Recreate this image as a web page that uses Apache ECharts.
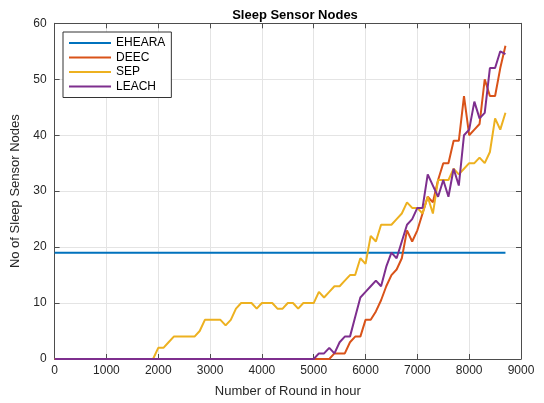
<!DOCTYPE html>
<html><head><meta charset="utf-8">
<script src="https://cdn.jsdelivr.net/npm/echarts@6/dist/echarts.min.js"></script>
<style>html,body{margin:0;padding:0;background:#fff}#c{width:544px;height:403px}</style>
</head><body><div id="c"></div>
<script>
const rounds = [];
for (let r = 0; r <= 8700; r += 100) rounds.push(r);
const xTicks = [0,1000,2000,3000,4000,5000,6000,7000,8000,9000];
const yTicks = [0,10,20,30,40,50,60];
const seriesNames = ['EHEARA','DEEC','SEP','LEACH'];
const eheara = new Array(88).fill(19);
const deec = new Array(54).fill(0).concat([
  1,1,1,3,4,4,
  7,7,8.5,10.5,13,15,16,18,23,21,
  23,26,29,28,32,35,35,39,39,47,
  40,41,42,50,47,47,52,56]);
const sep = new Array(20).fill(0).concat([
  2,2,3,4,4,4,4,4,5,7,
  7,7,7,6,7,9,10,10,10,9,
  10,10,10,9,9,10,10,9,10,10,
  10,12,11,12,13,13,14,15,15,18,
  17,22,21,24,24,24,25,26,28,27,
  27,26,29,26,32,32,32,34,33,34,
  35,35,36,35,37,43,41,44]);
const leach = new Array(51).fill(0).concat([
  1,1,2,1,3,4,4,7.5,11,
  12,13,14,13,16.5,19,18,21,24,25,
  27,27,33,31,29,32,29,34,31,40,
  41,46,43,44,52,52,55,54.5]);
const colors = ['#0072BD','#D95319','#EDB120','#7E2F8E'];
const values = [eheara, deec, sep, leach];

const chart = echarts.init(document.getElementById('c'), null, {renderer:'canvas'});
const font = 'Liberation Sans, Arial, sans-serif';
const axisCol = '#4d4d4d';
const grid = {left:54.6, right:23, top:23.3, bottom:43.7};
const baseX = {type:'value', min:0, max:9000, interval:1000};
const baseY = {type:'value', min:0, max:60, interval:10};
chart.setOption({
  animation:false,
  textStyle:{fontFamily:font},
  title:{text:'Sleep Sensor Nodes', left:290, textAlign:'center', top:4,
    textStyle:{fontSize:13, fontWeight:'bold', color:'#000', fontFamily:font}},
  grid:grid,
  legend:{data:seriesNames.map((n,i)=>({name:n, icon:'rect', itemStyle:{color:colors[i]}})),
    orient:'vertical', left:63, top:32,
    backgroundColor:'#fff', borderColor:'#333', borderWidth:1, borderRadius:0,
    padding:[4,6,4,6], itemWidth:42, itemHeight:2, itemGap:0.5,
    textStyle:{fontSize:12, color:'#000', fontFamily:font, lineHeight:14}},
  xAxis:[
    Object.assign({}, baseX, {position:'bottom',
      name:'Number of Round in hour', nameLocation:'middle', nameGap:26,
      nameTextStyle:{fontSize:13, color:'#262626', fontFamily:font},
      axisLine:{show:true, onZero:false, lineStyle:{color:axisCol, width:1}},
      axisTick:{show:true, inside:true, length:5, lineStyle:{color:axisCol}},
      axisLabel:{fontSize:12, color:'#262626', margin:6, fontFamily:font,
        formatter:v => xTicks.includes(v) ? String(v) : ''},
      splitLine:{show:true, lineStyle:{color:'#e4e4e4', width:1}}}),
    Object.assign({}, baseX, {position:'top',
      axisLine:{show:true, onZero:false, lineStyle:{color:axisCol, width:1}},
      axisTick:{show:true, inside:true, length:5, lineStyle:{color:axisCol}},
      axisLabel:{show:false}, splitLine:{show:false}})
  ],
  yAxis:[
    Object.assign({}, baseY, {position:'left',
      name:'No of Sleep Sensor Nodes', nameLocation:'middle', nameGap:27,
      nameTextStyle:{fontSize:13, color:'#262626', fontFamily:font},
      axisLine:{show:true, onZero:false, lineStyle:{color:axisCol, width:1}},
      axisTick:{show:true, inside:true, length:5, lineStyle:{color:axisCol}},
      axisLabel:{fontSize:12, color:'#262626', margin:8, fontFamily:font,
        formatter:v => yTicks.includes(v) ? String(v) : ''},
      splitLine:{show:true, lineStyle:{color:'#e4e4e4', width:1}}}),
    Object.assign({}, baseY, {position:'right',
      axisLine:{show:true, onZero:false, lineStyle:{color:axisCol, width:1}},
      axisTick:{show:true, inside:true, length:5, lineStyle:{color:axisCol}},
      axisLabel:{show:false}, splitLine:{show:false}})
  ],
  series: seriesNames.map((n,i) => ({
    name:n, type:'line', xAxisIndex:0, yAxisIndex:0,
    data: rounds.map((r,k) => [r, values[i][k]]),
    symbol:'none', showSymbol:false,
    lineStyle:{color:colors[i], width:2}, itemStyle:{color:colors[i]},
    z: 2 + i
  }))
});
</script></body></html>
